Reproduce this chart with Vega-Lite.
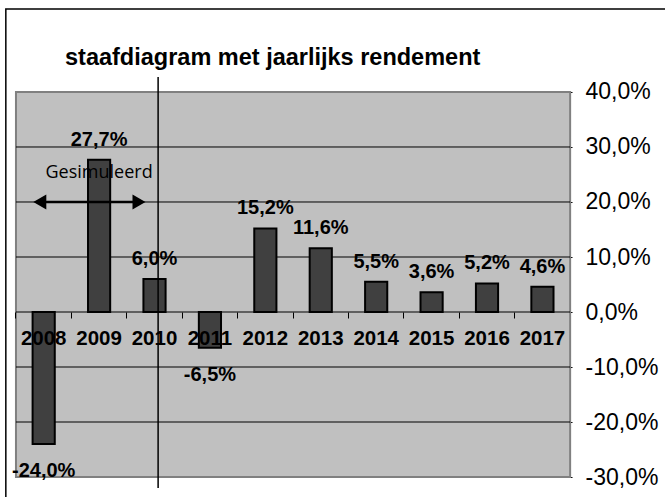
{
  "$schema": "https://vega.github.io/schema/vega-lite/v6.json",
  "width": 665,
  "height": 497,
  "padding": 0,
  "autosize": {"type": "none"},
  "background": "white",
  "config": {
    "view": {"stroke": null},
    "font": "Liberation Sans",
    "locale": {"number": {"decimal": ",", "thousands": ".", "grouping": [3], "currency": ["€", ""], "minus": "-"}}
  },
  "title": {
    "text": "staafdiagram met jaarlijks rendement",
    "anchor": "start",
    "frame": "group",
    "offset": 0,
    "dx": 65,
    "dy": 88,
    "baseline": "alphabetic",
    "font": "Liberation Sans",
    "fontSize": 23.5,
    "fontWeight": "bold",
    "color": "black"
  },
  "datasets": {
    "bars": [
      {"year": "2008", "value": -0.240},
      {"year": "2009", "value": 0.277},
      {"year": "2010", "value": 0.060},
      {"year": "2011", "value": -0.065},
      {"year": "2012", "value": 0.152},
      {"year": "2013", "value": 0.116},
      {"year": "2014", "value": 0.055},
      {"year": "2015", "value": 0.036},
      {"year": "2016", "value": 0.052},
      {"year": "2017", "value": 0.046}
    ],
    "grid": [
      {"v": -0.2}, {"v": -0.1}, {"v": 0.0}, {"v": 0.1}, {"v": 0.2}, {"v": 0.3}
    ],
    "one": [{}]
  },
  "layer": [
    {
      "data": {"name": "one"},
      "mark": {"type": "rect", "fill": null, "fillOpacity": 0, "stroke": "black", "strokeWidth": 1.5},
      "encoding": {
        "x": {"datum": "2008", "type": "nominal", "bandPosition": -0.183},
        "x2": {"datum": "2017", "bandPosition": 3},
        "y": {"datum": 0.5509, "type": "quantitative"},
        "y2": {"datum": -0.40}
      }
    },
    {
      "data": {"name": "one"},
      "mark": {"type": "rect", "fill": "#C0C0C0", "stroke": "#808080", "strokeWidth": 2},
      "encoding": {
        "x": {"datum": "2008", "type": "nominal", "bandPosition": 0},
        "x2": {"datum": "2017", "bandPosition": 1},
        "y": {"datum": 0.4, "type": "quantitative"},
        "y2": {"datum": -0.3}
      }
    },
    {
      "data": {"name": "grid"},
      "mark": {"type": "rule", "color": "black", "strokeWidth": 1},
      "encoding": {
        "x": {"datum": "2008", "type": "nominal", "bandPosition": 0},
        "x2": {"datum": "2017", "bandPosition": 1},
        "y": {"field": "v", "type": "quantitative"}
      }
    },
    {
      "data": {"name": "bars"},
      "mark": {"type": "bar", "fill": "#404040", "stroke": "black", "strokeWidth": 2, "width": {"band": 0.4}},
      "encoding": {
        "x": {
          "field": "year",
          "type": "nominal",
          "scale": {
            "type": "band",
            "domain": ["2008", "2009", "2010", "2011", "2012", "2013", "2014", "2015", "2016", "2017"],
            "paddingInner": 0,
            "paddingOuter": 1.0786,
            "align": 0.1441
          },
          "axis": {
            "title": null,
            "orient": "bottom",
            "offset": -185,
            "bandPosition": 0,
            "labels": false,
            "domain": false,
            "grid": false,
            "ticks": true,
            "tickSize": 6,
            "tickColor": "black",
            "tickWidth": 1
          }
        },
        "y": {
          "field": "value",
          "type": "quantitative",
          "scale": {"domain": [-0.33636, 0.56727], "nice": false, "zero": false},
          "axis": {
            "title": null,
            "orient": "right",
            "offset": -101,
            "values": [-0.3, -0.2, -0.1, 0, 0.1, 0.2, 0.3, 0.4],
            "format": ".1%",
            "domain": false,
            "grid": false,
            "tickSize": 8,
            "tickColor": "black",
            "tickWidth": 1,
            "labelFont": "Liberation Sans",
            "labelFontSize": 23,
            "labelColor": "black",
            "labelPadding": 13
          }
        }
      }
    },
    {
      "data": {"name": "bars"},
      "transform": [{"filter": "datum.value >= 0"}],
      "mark": {"type": "text", "font": "Liberation Sans", "fontSize": 20, "fontWeight": "bold", "baseline": "alphabetic", "align": "center", "dy": -14, "color": "black"},
      "encoding": {
        "x": {"field": "year", "type": "nominal"},
        "y": {"field": "value", "type": "quantitative"},
        "text": {"field": "value", "type": "quantitative", "format": ".1%"}
      }
    },
    {
      "data": {"name": "bars"},
      "transform": [{"filter": "datum.value < 0"}],
      "mark": {"type": "text", "font": "Liberation Sans", "fontSize": 20, "fontWeight": "bold", "baseline": "alphabetic", "align": "center", "dy": 33, "color": "black"},
      "encoding": {
        "x": {"field": "year", "type": "nominal"},
        "y": {"field": "value", "type": "quantitative"},
        "text": {"field": "value", "type": "quantitative", "format": ".1%"}
      }
    },
    {
      "data": {"name": "bars"},
      "mark": {"type": "text", "font": "Liberation Sans", "fontSize": 20.5, "fontWeight": "bold", "baseline": "alphabetic", "align": "center", "dy": 33, "color": "black"},
      "encoding": {
        "x": {"field": "year", "type": "nominal"},
        "y": {"datum": 0, "type": "quantitative"},
        "text": {"field": "year", "type": "nominal"}
      }
    },
    {
      "data": {"name": "one"},
      "mark": {"type": "rule", "color": "black", "strokeWidth": 1.5},
      "encoding": {
        "x": {"datum": "2010", "type": "nominal", "bandPosition": 0.565},
        "y": {"datum": 0.4273, "type": "quantitative"},
        "y2": {"datum": -0.32}
      }
    },
    {
      "data": {"name": "one"},
      "mark": {"type": "rule", "color": "black", "strokeWidth": 2.5},
      "encoding": {
        "x": {"datum": "2008", "type": "nominal", "bandPosition": 0.43},
        "x2": {"datum": "2010", "bandPosition": 0.22},
        "y": {"datum": 0.2, "type": "quantitative"}
      }
    },
    {
      "data": {"name": "one"},
      "mark": {"type": "point", "shape": "triangle-left", "filled": true, "color": "black", "size": 225, "opacity": 1},
      "encoding": {
        "x": {"datum": "2008", "type": "nominal", "bandPosition": 0.43},
        "y": {"datum": 0.2, "type": "quantitative"}
      }
    },
    {
      "data": {"name": "one"},
      "mark": {"type": "point", "shape": "triangle-right", "filled": true, "color": "black", "size": 225, "opacity": 1},
      "encoding": {
        "x": {"datum": "2010", "type": "nominal", "bandPosition": 0.22},
        "y": {"datum": 0.2, "type": "quantitative"}
      }
    },
    {
      "data": {"name": "one"},
      "mark": {"type": "text", "text": "Gesimuleerd", "font": "Open Sans", "fontSize": 18, "baseline": "alphabetic", "align": "center", "color": "black"},
      "encoding": {
        "x": {"datum": "2009", "type": "nominal", "bandPosition": 0.5},
        "y": {"datum": 0.2436, "type": "quantitative"}
      }
    }
  ]
}
